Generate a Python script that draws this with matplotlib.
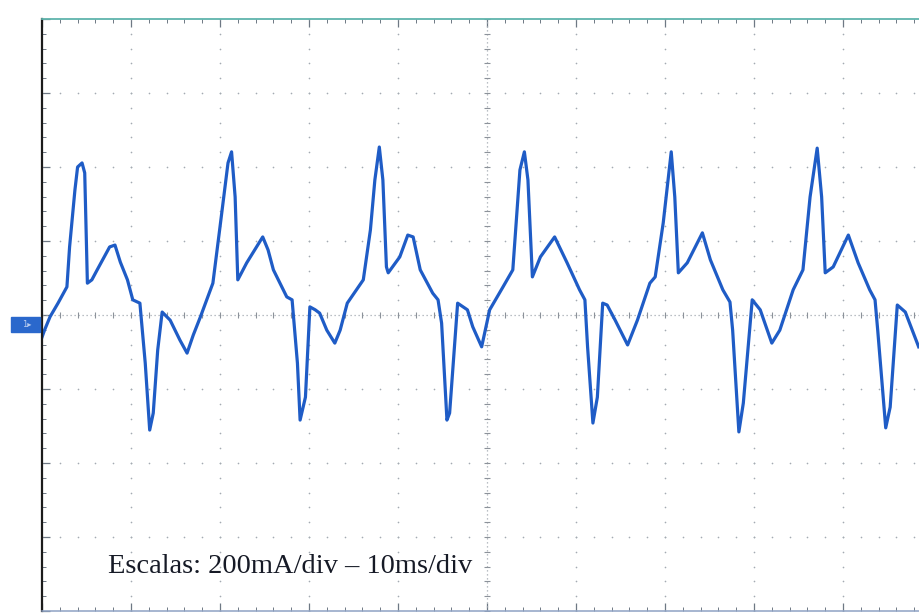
import numpy as np
import matplotlib.pyplot as plt
from matplotlib.patches import Rectangle

# channel 1 current trace, time in ms and current in mA
t_ms = [0.0, 0.3, 0.9, 1.8, 2.8, 3.1, 3.7, 4.0, 4.5, 4.8, 5.1, 5.6, 6.2, 7.6, 8.2,
        8.8, 9.6, 10.2, 11.0, 11.6, 12.1, 12.5, 13.0, 13.5, 14.4, 15.5, 16.3, 17.0,
        17.8, 19.2, 20.0, 20.9, 21.3, 21.7, 22.0, 23.0, 24.8, 25.4, 26.0, 27.5, 28.1,
        28.7, 29.0, 29.6, 30.1, 30.7, 31.2, 32.0, 32.9, 33.5, 34.3, 36.1, 36.9, 37.4,
        37.9, 38.3, 38.7, 38.9, 40.2, 41.1, 41.7, 42.5, 43.9, 44.5, 44.9, 45.5, 45.8,
        46.7, 47.8, 48.4, 49.4, 50.3, 51.8, 52.9, 53.7, 54.2, 54.6, 55.1, 56.0, 57.6,
        59.0, 60.4, 61.0, 61.3, 61.9, 62.4, 63.0, 63.5, 64.4, 65.8, 66.9, 68.3, 68.9,
        69.8, 70.7, 71.1, 71.5, 72.5, 74.2, 75.1, 76.5, 77.3, 77.6, 78.3, 78.8, 79.8,
        80.7, 82.0, 82.9, 84.4, 85.5, 86.3, 87.1, 87.6, 88.0, 88.9, 90.6, 91.7, 93.0,
        93.6, 93.9, 94.8, 95.3, 96.1, 97.0, 98.5]
i_mA = [-60, -40, -5, 32, 76, 184, 338, 400, 411, 384, 86, 95, 122, 184, 189,
        143, 95, 41, 32, -130, -311, -265, -95, 8, -14, -68, -103, -54,
        -5, 86, 238, 411, 441, 319, 95, 141, 211, 176, 122, 49, 41,
        -130, -284, -222, 22, 14, 5, -41, -76, -41, 32, 95, 230, 365,
        454, 365, 130, 114, 157, 216, 211, 122, 59, 41, -22, -284, -265,
        32, 14, -32, -86, 14, 76, 122, 392, 441, 365, 103, 157, 211,
        141, 68, 41, -86, -292, -222, 32, 27, -14, -81, -14, 86, 103,
        249, 441, 319, 114, 141, 222, 149, 68, 35, -41, -316, -238, 41,
        14, -76, -41, 68, 122, 319, 451, 319, 114, 130, 216, 141, 68,
        41, -41, -305, -249, 27, 8, -86]

ms_per_div = 10
mA_per_div = 200
caption = "Escalas: 200mA/div \u2013 10ms/div"

W, H = 919, 613
fig = plt.figure(figsize=(W / 100, H / 100), dpi=100)
fig.patch.set_facecolor('white')
ax = fig.add_axes([42 / W, 2 / H, 890 / W, 592 / H])
ax.set_xlim(0, 10 * ms_per_div)
ax.set_ylim(-4 * mA_per_div, 4 * mA_per_div)
ax.set_facecolor('white')

dot = '#a4aab2'
sub_x = np.arange(0, 10 * ms_per_div + 0.01, ms_per_div / 5)
sub_y = np.arange(-4 * mA_per_div, 4 * mA_per_div + 0.01, mA_per_div / 5)

# graticule dots on the major divisions
for k in range(1, 10):
    if k == 5:
        continue
    ax.plot(np.full_like(sub_y, k * ms_per_div), sub_y, ls='none', marker='o',
            ms=1.2, color=dot, mew=0)
for k in range(-3, 4):
    if k == 0:
        continue
    ax.plot(sub_x, np.full_like(sub_x, k * mA_per_div), ls='none', marker='o',
            ms=1.2, color=dot, mew=0)

# centre cross with fine ticks
ax.axhline(0, color=dot, lw=0.9, ls=(0, (1, 2.2)))
ax.axvline(5 * ms_per_div, color=dot, lw=0.9, ls=(0, (1, 2.2)))
ax.plot(sub_x, np.zeros_like(sub_x), ls='none', marker='|', ms=4.5, mew=0.8, color='#8c929a')
ax.plot(np.full_like(sub_y, 5 * ms_per_div), sub_y, ls='none', marker='_', ms=4.5,
        mew=0.8, color='#8c929a')

ax.plot(t_ms, i_mA, color='#1f5cc6', lw=2.3, solid_joinstyle='round')

# frame
ax.spines['left'].set_color('#1b1b1b')
ax.spines['left'].set_linewidth(1.6)
ax.spines['top'].set_color('#5fb4ac')
ax.spines['top'].set_linewidth(1.3)
ax.spines['bottom'].set_color('#8ea2c4')
ax.spines['bottom'].set_linewidth(1.1)
ax.spines['right'].set_visible(False)
ax.set_xticks(np.arange(0, 101, ms_per_div))
ax.set_xticks(sub_x, minor=True)
ax.set_yticks(np.arange(-800, 801, mA_per_div))
ax.set_yticks(sub_y, minor=True)
ax.tick_params(which='both', direction='in', top=True, bottom=True, left=True,
               right=False, labelbottom=False, labelleft=False, color='#6e7884')
ax.tick_params(which='major', length=6, width=0.9)
ax.tick_params(which='minor', length=3, width=0.7)

# channel marker
fig.patches.append(Rectangle((11 / W, 1 - 332 / H), 29 / W, 15 / H,
                             transform=fig.transFigure, color='#2a68cc', zorder=5))
fig.text(27 / W, 1 - 324.5 / H, "1\u25b8", color='#b8cdf0', fontsize=6,
         ha='center', va='center', zorder=6)

ax.text(108 / W, 1 - 573 / H, caption, transform=fig.transFigure,
        family='Liberation Serif', fontsize=20.5, color='#161a26',
        ha='left', va='baseline')

fig.savefig('out.png', dpi=100)
